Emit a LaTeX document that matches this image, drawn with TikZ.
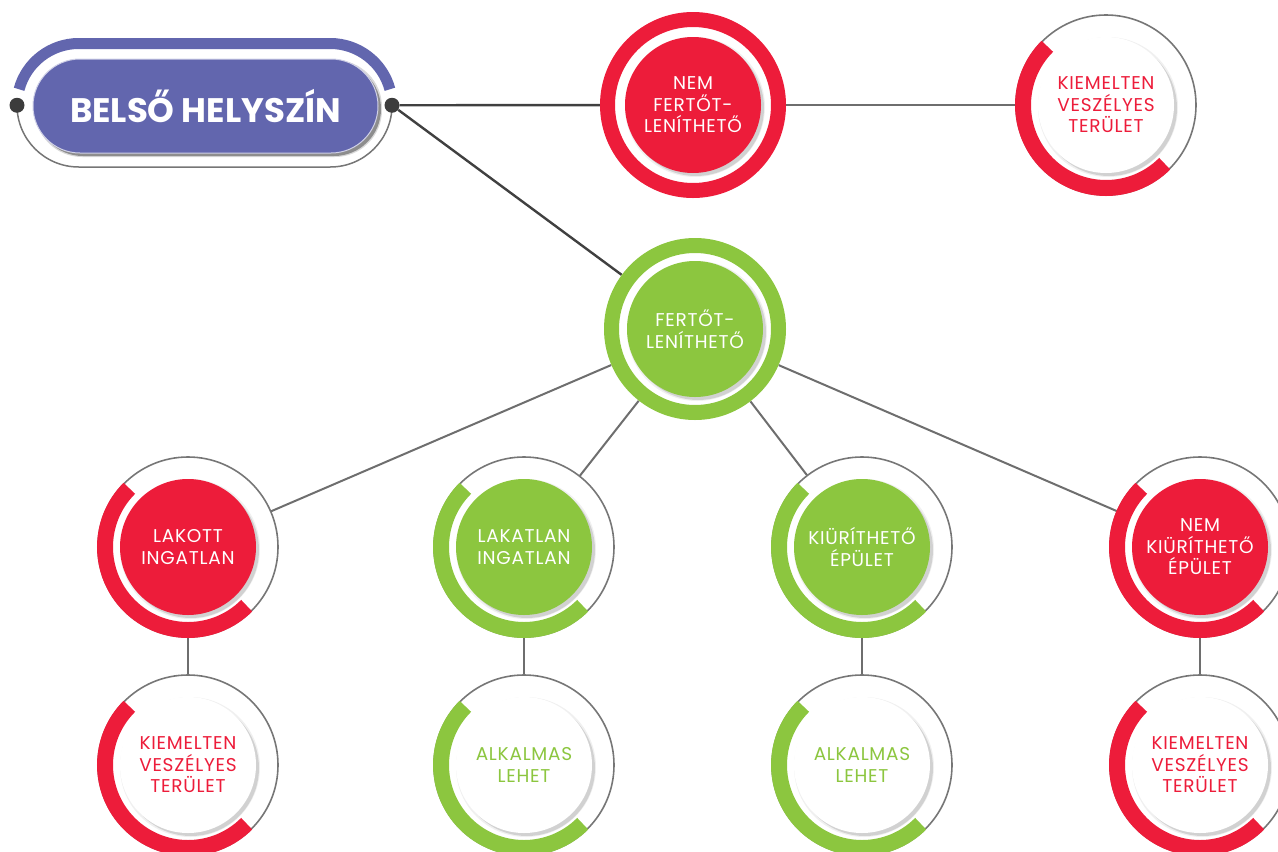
\documentclass[tikz,border=0pt]{standalone}
\usepackage{fontspec}
\setmainfont{Poppins}
\usetikzlibrary{calc}
\definecolor{cred}{HTML}{ED1C3A}
\definecolor{cgreen}{HTML}{8CC63F}
\definecolor{cpurple}{HTML}{6266AE}
\definecolor{cring}{HTML}{767676}
\definecolor{cdot}{HTML}{3C3C3C}
\definecolor{cdark}{HTML}{404040}
\definecolor{cline}{HTML}{6E6E6E}
\pgfdeclarelayer{background}
\pgfsetlayers{background,main}
\tikzset{
  disc/.style={circle, minimum size=136, inner sep=0, align=center,
    font=\fontsize{18.5}{21.5}\selectfont\addfontfeatures{LetterSpace=4}},
  outernode/.style={circle, inner sep=0, draw=none},
  dotst/.style={circle, fill=cdot, minimum size=15, inner sep=0},
  darkline/.style={cdark, line width=2.4},
  grayline/.style={cline, line width=2},
  discshadow/.style={black, opacity=0.13},
}
\newcommand\halfbub[7]{%
  \fill[discshadow] (#2+3,#3+3) circle[radius=68];
  \fill[black, opacity=0.06] (#2+2,#3+2) circle[radius=70];
  \node[outernode, minimum size=180] (#1) at (#2,#3) {};
  \draw[cring, line width=1.6] (#1.center) circle[radius=90];
  \draw[#4, line width=16] (#1.center) ++(225:83) arc[start angle=225, end angle=45, radius=83];
  \node[disc, fill=#5, text=#6] (#1-in) at (#2,#3) {#7};
}
\newcommand\fullbub[6]{%
  \node[outernode, minimum size=2*#5] (#1) at (#2,#3) {};
  \draw[#4, line width=15] (#1.center) circle[radius=#5-7.5];
  \fill[discshadow] (#2+3,#3+3) circle[radius=68];
  \fill[black, opacity=0.06] (#2+2,#3+2) circle[radius=70];
  \node[disc, fill=#4, text=white] (#1-in) at (#2,#3) {#6};
}
\begin{document}
\begin{tikzpicture}[x=1pt,y=-1pt]
\useasboundingbox (0,0) rectangle (1278,852);

% --- title pill ---
\draw[cpurple, line width=11] (78.75,105.25) ++(195:61.75) arc[start angle=195, end angle=270, radius=61.75]
  -- (330.25,43.5) arc[start angle=270, end angle=345, radius=61.75];
\draw[cring, line width=1.5] (17,105.25) arc[start angle=180, end angle=90, radius=61.75]
  -- (330.25,167) arc[start angle=90, end angle=0, radius=61.75];
\fill[black, opacity=0.35, rounded corners=47] (36,62) rectangle (381,156);
\fill[black, opacity=0.15, rounded corners=47] (35,60) rectangle (382,157);
\node[fill=cpurple, draw=white!70!cpurple, line width=1, rounded corners=47, minimum width=345, minimum height=94,
  text=white, font=\fontsize{34}{38}\bfseries\selectfont] (title) at (205.5,106) {BELSŐ HELYSZÍN};
\node[dotst] (dl) at (17,105.25) {};
\node[dotst] (dr) at (392,105.25) {};

% --- bubbles ---
\fullbub{nem}{693}{105}{cred}{93}{NEM\\FERTŐT-\\LENÍTHETŐ}
\fullbub{fert}{695}{329}{cgreen}{91}{FERTŐT-\\LENÍTHETŐ}
\halfbub{kvtop}{1106}{105}{cred}{white}{cred}{KIEMELTEN\\VESZÉLYES\\TERÜLET}
\halfbub{lakott}{188}{547}{cred}{cred}{white}{LAKOTT\\INGATLAN}
\halfbub{lakatlan}{524}{547}{cgreen}{cgreen}{white}{LAKATLAN\\INGATLAN}
\halfbub{kiur}{862}{547}{cgreen}{cgreen}{white}{KIÜRÍTHETŐ\\ÉPÜLET}
\halfbub{nemkiur}{1200}{547}{cred}{cred}{white}{NEM\\KIÜRÍTHETŐ\\ÉPÜLET}
\halfbub{kva}{188}{765}{cred}{white}{cred}{KIEMELTEN\\VESZÉLYES\\TERÜLET}
\halfbub{alka}{524}{765}{cgreen}{white}{cgreen}{ALKALMAS\\LEHET}
\halfbub{alkb}{862}{765}{cgreen}{white}{cgreen}{ALKALMAS\\LEHET}
\halfbub{kvb}{1200}{765}{cred}{white}{cred}{KIEMELTEN\\VESZÉLYES\\TERÜLET}

% --- connectors ---
\begin{pgfonlayer}{background}
\draw[darkline] (dr) -- (nem);
\draw[darkline] (dr) -- (fert);
\draw[grayline] (nem) -- (kvtop);
\draw[grayline] (fert) -- (lakott);
\draw[grayline] (fert) -- (lakatlan);
\draw[grayline] (fert) -- (kiur);
\draw[grayline] (fert) -- (nemkiur);
\draw[grayline] (lakott) -- (kva);
\draw[grayline] (lakatlan) -- (alka);
\draw[grayline] (kiur) -- (alkb);
\draw[grayline] (nemkiur) -- (kvb);
\end{pgfonlayer}
\end{tikzpicture}
\end{document}
